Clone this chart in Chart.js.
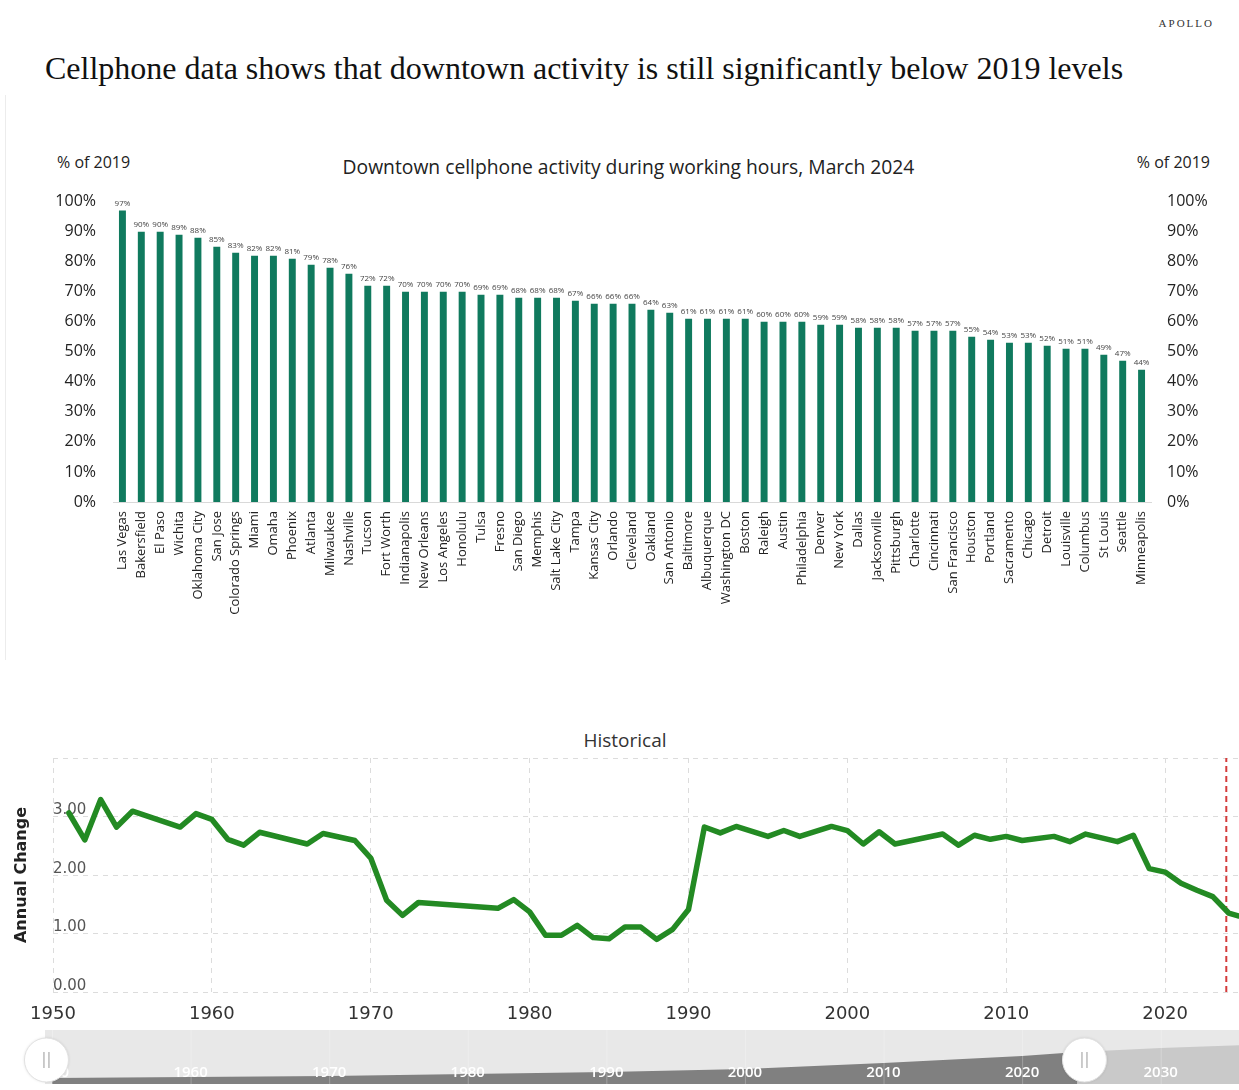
<!DOCTYPE html>
<html lang="en">
<head>
<meta charset="utf-8">
<title>Downtown cellphone activity</title>
<script src="https://cdn.jsdelivr.net/npm/chart.js@4.4.1/dist/chart.umd.min.js"></script>
<style>
  html, body { margin: 0; padding: 0; background: #fff; }
  body { width: 1239px; height: 1090px; position: relative; overflow: hidden; font-family: "Open Sans", sans-serif; color: #222; }
  .abs { position: absolute; white-space: nowrap; }
  #brand { right: 25px; top: 17px; font-family: "Liberation Serif", serif; font-size: 11px; letter-spacing: 2px; color: #333; }
  #title { left: 45px; top: 50px; font-family: "Liberation Serif", serif; font-size: 32px; color: #111; }
  #frame { left: 5px; top: 95px; height: 565px; border-left: 1px solid #ececec; }
  .unit { top: 151px; font-size: 16px; }
  #unitL { left: 57px; }
  #unitR { right: 29px; }
  #barTitle { left: 0; width: 1257px; text-align: center; top: 153px; font-size: 19.3px; }
  #histTitle { left: 0; width: 1250px; text-align: center; top: 727px; font-size: 19px; color: #333; }
  #barBox { left: 0; top: 175px; }
  #histBox { left: 0; top: 740px; }
  #navBox { left: 0; top: 1028px; }
</style>
</head>
<body>
<div class="abs" id="brand">APOLLO</div>
<div class="abs" id="title">Cellphone data shows that downtown activity is still significantly below 2019 levels</div>
<div class="abs" id="frame"></div>
<div class="abs unit" id="unitL">% of 2019</div>
<div class="abs unit" id="unitR">% of 2019</div>
<div class="abs" id="barTitle">Downtown cellphone activity during working hours, March 2024</div>
<div class="abs" id="histTitle">Historical</div>
<canvas class="abs" id="barBox" width="1239" height="455"></canvas>
<canvas class="abs" id="histBox" width="1239" height="290"></canvas>
<canvas class="abs" id="navBox" width="1239" height="60"></canvas>

<script>
/* ============================================================
   Downtown activity (bars) + historical series (line)
   ============================================================ */

const COR = {
  bar: "#107a5e",
  line: "#238a23",
  marker: "#d43b3b",
  grid: "#dcdcdc",
  text: "#222",
  muted: "#555",
  navBg: "#e8e8e8",
  navOn: "#808080",
  navOff: "#c9c9c9",
};

/* ---------- Data: bar chart ---------- */
const CITIES = [
  "Las Vegas", "Bakersfield", "El Paso", "Wichita", "Oklahoma City", "San Jose", "Colorado Springs",
  "Miami", "Omaha", "Phoenix", "Atlanta", "Milwaukee", "Nashville", "Tucson", "Fort Worth",
  "Indianapolis", "New Orleans", "Los Angeles", "Honolulu", "Tulsa", "Fresno", "San Diego",
  "Memphis", "Salt Lake City", "Tampa", "Kansas City", "Orlando", "Cleveland", "Oakland",
  "San Antonio", "Baltimore", "Albuquerque", "Washington DC", "Boston", "Raleigh", "Austin",
  "Philadelphia", "Denver", "New York", "Dallas", "Jacksonville", "Pittsburgh", "Charlotte",
  "Cincinnati", "San Francisco", "Houston", "Portland", "Sacramento", "Chicago", "Detroit",
  "Louisville", "Columbus", "St Louis", "Seattle", "Minneapolis",
];
const ACTIVITY = [
  97, 90, 90, 89, 88, 85, 83, 82, 82, 81, 79, 78, 76, 72, 72,
  70, 70, 70, 70, 69, 69, 68, 68, 68, 67, 66, 66, 66, 64, 63,
  61, 61, 61, 61, 60, 60, 60, 59, 59, 58, 58, 58, 57, 57, 57,
  55, 54, 53, 53, 52, 51, 51, 49, 47, 44,
];
const PCT_MIN = 0;
const PCT_MAX = 100;
const PCT_STEP = 10;

/* ---------- Data: historical line ---------- */
const HIST_YEARS = [
  1951, 1952, 1953, 1954, 1955, 1958, 1959, 1960, 1961, 1962, 1963, 1966, 1967, 1969, 1970,
  1971, 1972, 1973, 1978, 1979, 1980, 1981, 1982, 1983, 1984, 1985, 1986, 1987, 1988, 1989,
  1990, 1991, 1992, 1993, 1995, 1996, 1997, 1999, 2000, 2001, 2002, 2003, 2006, 2007, 2008,
  2009, 2010, 2011, 2013, 2014, 2015, 2017, 2018, 2019, 2020, 2021, 2022, 2023, 2024, 2024.6,
];
const HIST_VALUES = [
  3.06, 2.60, 3.29, 2.82, 3.09, 2.82, 3.05, 2.95, 2.61, 2.51, 2.73, 2.53, 2.71, 2.59, 2.29,
  1.57, 1.31, 1.53, 1.43, 1.58, 1.37, 0.97, 0.97, 1.14, 0.93, 0.91, 1.11, 1.11, 0.90, 1.07,
  1.41, 2.82, 2.72, 2.83, 2.66, 2.76, 2.66, 2.83, 2.76, 2.53, 2.74, 2.53, 2.70, 2.51, 2.68,
  2.61, 2.66, 2.59, 2.66, 2.57, 2.70, 2.57, 2.68, 2.11, 2.05, 1.86, 1.74, 1.63, 1.35, 1.30,
];
const HIST_X_MIN = 1950;
const HIST_X_MAX = 2024.65;
const HIST_Y_MAX = 4;
const MARKER_YEAR = 2023.85;

/* ---------- Data: navigator ---------- */
const NAV_YEARS = [1950, 1960, 1970, 1980, 1990, 2000, 2010, 2020, 2024, 2030, 2036];
const NAV_VALUES = [6, 7, 8, 10, 12, 15, 21, 28, 32, 36, 39];
const NAV_TICKS = [1950, 1960, 1970, 1980, 1990, 2000, 2010, 2020, 2030];
const NAV_RANGE = [1949.6, 2024.5];

/* ---------- Helpers ---------- */
const pontos = (xs, ys) => xs.map((x, i) => ({ x, y: ys[i] }));
const noGrid = { display: false, drawTicks: false };

// Percent labels above each bar
const barLabels = {
  id: "barLabels",
  afterDatasetsDraw(chart) {
    const { ctx } = chart;
    ctx.save();
    ctx.font = "8px 'Open Sans', sans-serif";
    ctx.fillStyle = "#444";
    ctx.textAlign = "center";
    ctx.textBaseline = "bottom";
    chart.getDatasetMeta(0).data.forEach((bar, i) => ctx.fillText(ACTIVITY[i] + "%", bar.x, bar.y - 3));
    ctx.restore();
  },
};

// Range selector: background, decade labels and the two handles
const navigatorDeco = {
  id: "navigatorDeco",
  beforeDatasetsDraw(chart) {
    const { ctx, chartArea: a } = chart;
    ctx.save();
    ctx.fillStyle = COR.navBg;
    ctx.fillRect(45, a.top, chart.width - 45, a.bottom - a.top);
    ctx.restore();
  },
  afterDraw(chart) {
    const { ctx, chartArea: a } = chart;
    const x = chart.scales.x;
    ctx.save();
    ctx.strokeStyle = "rgba(255,255,255,0.25)";
    ctx.lineWidth = 1;
    ctx.font = "600 15px 'Open Sans', sans-serif";
    ctx.fillStyle = "#fff";
    ctx.textAlign = "center";
    ctx.textBaseline = "middle";
    NAV_TICKS.forEach((t) => {
      const px = x.getPixelForValue(t);
      ctx.beginPath();
      ctx.moveTo(px + 0.5, a.top);
      ctx.lineTo(px + 0.5, a.bottom);
      ctx.stroke();
      ctx.fillText(String(t), px, a.bottom - 11);
    });
    NAV_RANGE.forEach((t) => {
      const px = x.getPixelForValue(t);
      const cy = (a.top + a.bottom) / 2 + 3;
      ctx.beginPath();
      ctx.arc(px, cy, 22, 0, Math.PI * 2);
      ctx.fillStyle = "#fff";
      ctx.shadowColor = "rgba(0,0,0,0.15)";
      ctx.shadowBlur = 3;
      ctx.fill();
      ctx.shadowBlur = 0;
      ctx.strokeStyle = "#e2e2e2";
      ctx.stroke();
      ctx.strokeStyle = "#999";
      ctx.beginPath();
      ctx.moveTo(px - 2.5, cy - 8);
      ctx.lineTo(px - 2.5, cy + 8);
      ctx.moveTo(px + 2.5, cy - 8);
      ctx.lineTo(px + 2.5, cy + 8);
      ctx.stroke();
    });
    ctx.restore();
  },
};

/* ============================================================
   Bar chart
   ============================================================ */
function pctAxis(position, width, padding) {
  return {
    position,
    min: PCT_MIN,
    max: PCT_MAX,
    ticks: { stepSize: PCT_STEP, padding, callback: (v) => v + "%", font: { size: 16 }, color: COR.text },
    grid: noGrid,
    border: { display: false },
    afterFit: (s) => { s.width = width; },
  };
}

function renderBars() {
  new Chart(document.getElementById("barBox"), {
    type: "bar",
    data: {
      labels: CITIES,
      datasets: [{ data: ACTIVITY, backgroundColor: COR.bar, barPercentage: 0.46, categoryPercentage: 0.8, yAxisID: "y" }],
    },
    options: {
      responsive: false,
      animation: false,
      layout: { padding: { top: 15, left: 0, right: 0, bottom: 0 } },
      plugins: { legend: { display: false }, tooltip: { enabled: false } },
      scales: {
        x: {
          grid: noGrid,
          border: { display: true, color: "#d9d9d9" },
          ticks: { autoSkip: false, minRotation: 90, maxRotation: 90, padding: 9, font: { size: 13 }, color: COR.text },
          afterFit: (s) => { s.height = 128; },
        },
        y: pctAxis("left", 113, 17),
        yRight: pctAxis("right", 88, 16),
      },
    },
    plugins: [barLabels],
  });
}

/* ============================================================
   Historical line
   ============================================================ */
function renderHistory() {
  new Chart(document.getElementById("histBox"), {
    type: "line",
    data: {
      datasets: [
        {
          data: pontos(HIST_YEARS, HIST_VALUES),
          borderColor: COR.line,
          borderWidth: 5.5,
          pointRadius: 0,
          tension: 0,
          borderJoinStyle: "round",
          borderCapStyle: "round",
        },
        {
          data: [{ x: MARKER_YEAR, y: 0 }, { x: MARKER_YEAR, y: HIST_Y_MAX }],
          borderColor: COR.marker,
          borderWidth: 2,
          borderDash: [6, 4],
          pointRadius: 0,
        },
      ],
    },
    options: {
      responsive: false,
      animation: false,
      layout: { padding: { top: 18, left: 0, right: 0, bottom: 0 } },
      plugins: { legend: { display: false }, tooltip: { enabled: false } },
      scales: {
        x: {
          type: "linear",
          min: HIST_X_MIN,
          max: HIST_X_MAX,
          ticks: {
            stepSize: 10,
            includeBounds: false,
            padding: 12,
            callback: (v) => String(v),
            font: { family: "'DejaVu Sans', sans-serif", size: 18 },
            color: "#333",
          },
          grid: { color: COR.grid, drawTicks: false },
          border: { display: false, dash: [5, 5] },
          afterFit: (s) => { s.height = 38; },
        },
        y: {
          min: 0,
          max: HIST_Y_MAX,
          ticks: {
            stepSize: 1,
            mirror: true,
            padding: 0,
            labelOffset: -6,
            callback: (v) => (v === HIST_Y_MAX ? "" : v.toFixed(2)),
            font: { family: "'DejaVu Sans', sans-serif", size: 15 },
            color: COR.muted,
          },
          grid: { color: COR.grid, drawTicks: false },
          border: { display: false, dash: [5, 5] },
          title: {
            display: true,
            text: "Annual Change",
            font: { family: "'DejaVu Sans', sans-serif", size: 16, weight: "bold" },
            color: COR.text,
            padding: { top: 12, bottom: 0 },
          },
          afterFit: (s) => { s.width = 53; },
        },
      },
    },
  });
}

/* ---------- Navigator ---------- */
function renderNavigator() {
  const todos = pontos(NAV_YEARS, NAV_VALUES);
  const corte = NAV_YEARS[8];
  new Chart(document.getElementById("navBox"), {
    type: "line",
    data: {
      datasets: [
        { data: todos.filter((p) => p.x <= corte), fill: "origin", backgroundColor: COR.navOn, borderWidth: 0, pointRadius: 0 },
        { data: todos.filter((p) => p.x >= corte), fill: "origin", backgroundColor: COR.navOff, borderWidth: 0, pointRadius: 0 },
      ],
    },
    options: {
      responsive: false,
      animation: false,
      layout: { padding: { top: 2, left: 52, right: 0, bottom: 4 } },
      plugins: { legend: { display: false }, tooltip: { enabled: false } },
      scales: {
        x: { type: "linear", display: false, min: 1950, max: 2035.65 },
        y: { display: false, min: 0, max: 54 },
      },
    },
    plugins: [navigatorDeco],
  });
}

/* ---------- Start ---------- */
function init() {
  Chart.defaults.font.family = "'Open Sans', sans-serif";
  Chart.defaults.color = COR.text;
  renderBars();
  renderHistory();
  renderNavigator();
}

document.addEventListener("DOMContentLoaded", init);
</script>
</body>
</html>
